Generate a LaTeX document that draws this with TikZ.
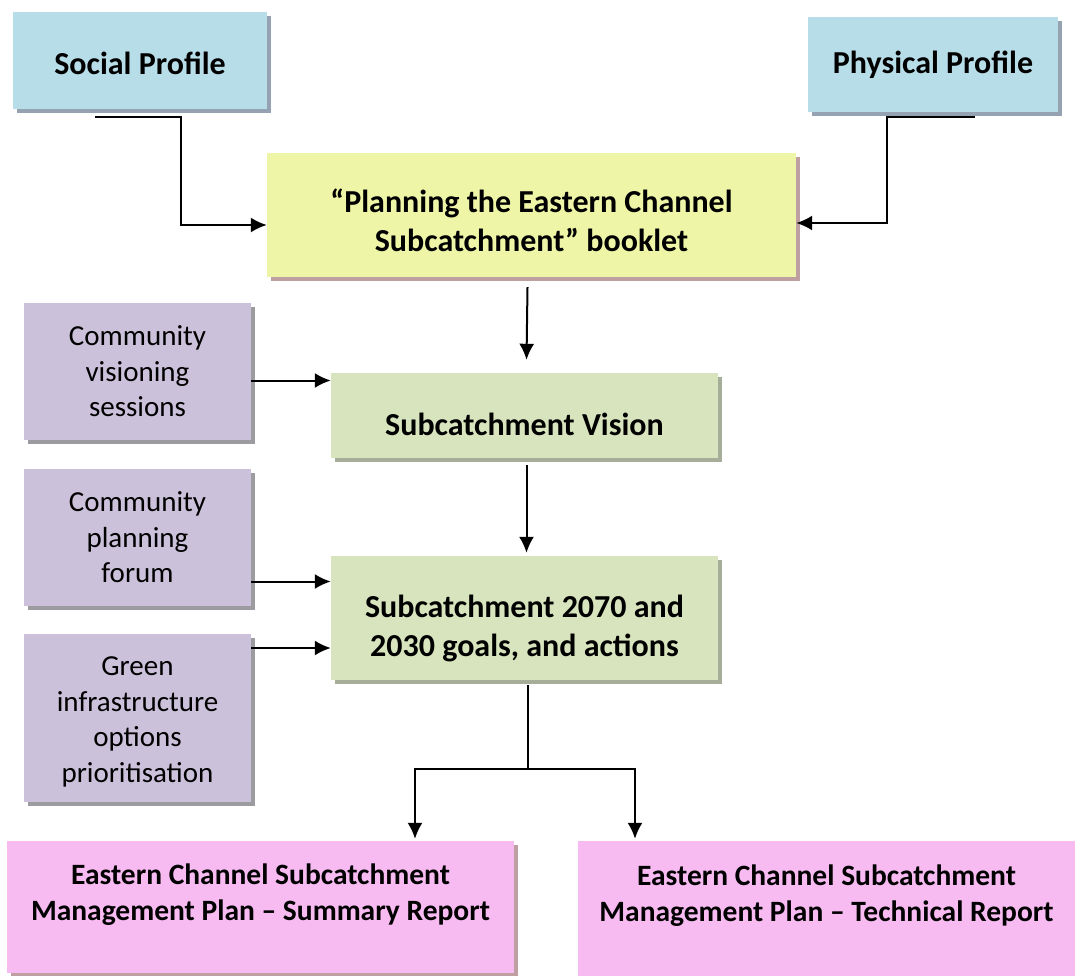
\documentclass[tikz,border=0pt]{standalone}
\usepackage{fontspec}
\setmainfont{Carlito}
\usepackage{tikz}
\usetikzlibrary{arrows.meta,shadows}
\tikzset{>={Latex[length=16pt,width=15pt]}}
\usepackage{xcolor}
\definecolor{profcol}{HTML}{B7DDE8}
\definecolor{bookcol}{HTML}{EFF5A7}
\definecolor{commcol}{HTML}{CCC1DA}
\definecolor{plancol}{HTML}{D7E4BD}
\definecolor{repcol}{HTML}{F7BBF1}
\definecolor{shadblue}{HTML}{95A2B2}
\definecolor{shadbrown}{HTML}{BFA0A2}
\definecolor{shadgray}{HTML}{9C9CA0}
\definecolor{shadgreen}{HTML}{A6AD98}
\tikzstyle{box}=[rectangle,align=center,inner sep=0pt]
\tikzstyle{profile box}=[box,fill=profcol,font=\fontsize{32}{39}\selectfont\bfseries,
  drop shadow={shadow xshift=4pt,shadow yshift=-4pt,fill=shadblue,opacity=1}]
\tikzstyle{booklet box}=[box,fill=bookcol,font=\fontsize{32}{39}\selectfont\bfseries,
  drop shadow={shadow xshift=4pt,shadow yshift=-4pt,fill=shadbrown,opacity=1}]
\tikzstyle{community box}=[box,fill=commcol,font=\fontsize{29}{35.5}\selectfont,
  minimum width=227pt,
  drop shadow={shadow xshift=4pt,shadow yshift=-4pt,fill=shadgray,opacity=1}]
\tikzstyle{plan box}=[box,fill=plancol,font=\fontsize{32}{39}\selectfont\bfseries,
  minimum width=387pt,
  drop shadow={shadow xshift=4pt,shadow yshift=-4pt,fill=shadgreen,opacity=1}]
\tikzstyle{report box}=[box,fill=repcol,font=\fontsize{29.5}{36}\selectfont\bfseries,
  drop shadow={shadow xshift=4pt,shadow yshift=-4pt,fill=shadbrown,opacity=1}]
\tikzstyle{flow}=[->,line width=2pt,black]
\newcommand{\lowerby}[1]{\rule{0pt}{\dimexpr 23pt+2\dimexpr #1\relax\relax}}

\begin{document}
\begin{tikzpicture}[x=1pt,y=-1pt]
  \useasboundingbox (0,0) rectangle (1075,976);

  % PROFILES
  \node[profile box,minimum width=254pt,minimum height=97pt] (social)
    at (140,60.5) {\lowerby{3pt}Social Profile};
  \node[profile box,minimum width=250pt,minimum height=95pt] (physical)
    at (933,64.5) {Physical Profile};

  % BOOKLET
  \node[booklet box,minimum width=529pt,minimum height=124pt] (booklet)
    at (531.5,215) {\lowerby{6pt}``Planning the Eastern Channel\\Subcatchment'' booklet};

  % COMMUNITY INPUTS
  \node[community box,minimum height=137pt] (visioning)
    at (137.5,371.5) {Community\\visioning\\sessions};
  \node[community box,minimum height=137pt] (forum)
    at (137.5,537.5) {Community\\planning\\forum};
  \node[community box,minimum height=168pt] (green)
    at (137.5,718) {\rule{0pt}{27pt}Green\\infrastructure\\options\\prioritisation};

  % VISION AND GOALS
  \node[plan box,minimum height=85pt] (vision)
    at (524.5,415.5) {\lowerby{9pt}Subcatchment Vision};
  \node[plan box,minimum height=124pt] (goals)
    at (524.5,618) {\lowerby{10pt}Subcatchment 2070 and\\2030 goals, and actions};

  % REPORTS
  \node[report box,minimum width=507pt,minimum height=132pt,text depth=30pt] (summary)
    at (260.5,907) {Eastern Channel Subcatchment\\Management Plan -- Summary Report};
  \node[report box,minimum width=497pt,minimum height=135pt,text depth=30pt] (technical)
    at (826.5,908.5) {Eastern Channel Subcatchment\\Management Plan -- Technical Report};

  % ARROWS
  \coordinate (socout) at ([xshift=-45pt,yshift=-8pt]social.south);
  \coordinate (physout) at ([xshift=42pt,yshift=-5pt]physical.south);
  \draw[flow] (socout) -- ++(86,0) |- ([yshift=-10pt]booklet.west);
  \draw[flow] (physout) -- ++(-88,0) |- ([yshift=-8pt]booklet.east);
  \draw[flow] ([xshift=-4pt,yshift=-10pt]booklet.south)
    -- ([xshift=2pt,yshift=13pt]vision.north);
  \draw[flow] ([yshift=-9pt]visioning.east) -- ([yshift=-9pt]visioning.east -| vision.west);
  \draw[flow] ([xshift=2pt,yshift=-7pt]vision.south) -- ([xshift=2pt,yshift=3pt]goals.north);
  \draw[flow] ([yshift=-44pt]forum.east) -- ([yshift=-44pt]forum.east -| goals.west);
  \draw[flow] ([yshift=70pt]green.east) -- ([yshift=70pt]green.east -| goals.west);

  \coordinate (goalsout) at ([xshift=3.5pt,yshift=-5pt]goals.south);
  \coordinate (split) at ([yshift=-89pt]goals.south -| goalsout);
  \draw[line width=2pt] (goalsout) -- (split);
  \draw[flow] (split) -| ([xshift=154.5pt,yshift=2pt]summary.north);
  \draw[flow] (split) -| ([xshift=-191.5pt,yshift=2pt]technical.north);
\end{tikzpicture}
\end{document}
